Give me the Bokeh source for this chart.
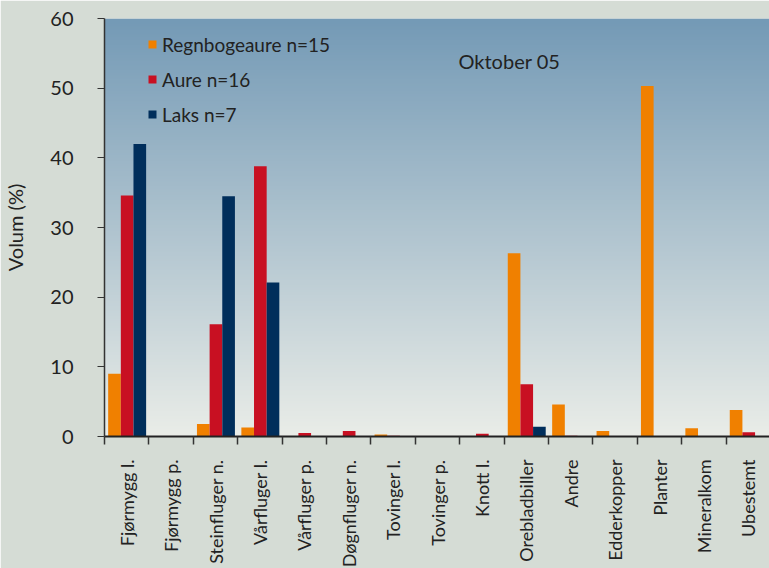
import math
import numpy as np
from bokeh.plotting import figure
from bokeh.models import (ColumnDataSource, Range1d, FixedTicker, CustomJSTickFormatter,
                          Label, Legend, LegendItem)
from bokeh.embed import file_html
from bokeh.resources import INLINE

categories = ["Fjørmygg l.", "Fjørmygg p.", "Steinfluger n.", "Vårfluger l.", "Vårfluger p.",
              "Døgnfluger n.", "Tovinger l.", "Tovinger p.", "Knott l.", "Orebladbiller",
              "Andre", "Edderkopper", "Planter", "Mineralkom", "Ubestemt"]
regnbogeaure = [9.0, 0, 1.8, 1.3, 0, 0, 0.3, 0, 0, 26.3, 4.6, 0.8, 50.3, 1.2, 3.8]
aure = [34.6, 0, 16.1, 38.8, 0.5, 0.8, 0.1, 0, 0.4, 7.5, 0.1, 0, 0, 0, 0.6]
laks = [42.0, 0, 34.5, 22.1, 0, 0, 0, 0, 0, 1.4, 0, 0, 0, 0, 0]
series_names = ["Regnbogeaure n=15", "Aure n=16", "Laks n=7"]
series_values = [regnbogeaure, aure, laks]
colors = ["#F08000", "#C81022", "#002E5B"]
y_ticks = [0, 10, 20, 30, 40, 50, 60]

FONT = "Lato"
TXT = "#222222"

p = figure(width=769, height=568, frame_width=666, frame_height=418,
           min_border_left=103, min_border_right=0, min_border_top=18, min_border_bottom=132,
           x_range=Range1d(0, len(categories)), y_range=Range1d(0, 60),
           output_backend="svg", toolbar_location=None,
           background_fill_color="#D5DCD5", border_fill_color="#D5DCD5")
p.outline_line_color = None
p.grid.visible = False

# vertical gradient background of the plot area
n = 256
top = np.array([116, 154, 182], dtype=float)
bot = np.array([234, 237, 232], dtype=float)
t = np.linspace(0, 1, n)[:, None]
rgb = (bot * (1 - t) + top * t).astype(np.uint32)  # row 0 = bottom
img = np.zeros((n, 1), dtype=np.uint32)
view = img.view(dtype=np.uint8).reshape((n, 1, 4))
view[:, 0, 0] = rgb[:, 0]
view[:, 0, 1] = rgb[:, 1]
view[:, 0, 2] = rgb[:, 2]
view[:, 0, 3] = 255
p.image_rgba(image=[img], x=0, y=0, dw=len(categories), dh=60)

idx = np.arange(len(categories)) + 0.5
bw = 0.285
offsets = [-bw, 0.0, bw]
items = []
for name, vals, col, off in zip(series_names, series_values, colors, offsets):
    src = ColumnDataSource(dict(x=idx + off + 0.01, top=vals))
    r = p.vbar(x="x", top="top", bottom=0, width=bw, source=src,
               fill_color=col, line_color=None)
    items.append(LegendItem(label=name, renderers=[r]))

legend = Legend(items=items, location=(43, 310), orientation="vertical",
                background_fill_alpha=0, border_line_color=None,
                label_text_font=FONT, label_text_font_size="19px", label_text_color=TXT,
                glyph_width=10, glyph_height=10, spacing=11, padding=0, margin=0,
                label_standoff=5, label_height=24)
p.add_layout(legend, "center")

p.add_layout(Label(x=354, y=376, x_units="screen", y_units="screen", text="Oktober 05",
                   text_font=FONT, text_font_size="20px", text_color=TXT,
                   text_baseline="middle"))

# y axis
yax = p.yaxis[0]
yax.ticker = FixedTicker(ticks=y_ticks)
yax.axis_line_color = "#333333"
yax.axis_line_width = 1.5
yax.major_tick_out = 7
yax.major_tick_in = 0
yax.major_tick_line_color = "#333333"
yax.minor_tick_line_color = None
yax.major_label_text_font = FONT
yax.major_label_text_font_size = "20px"
yax.major_label_text_color = TXT
yax.major_label_standoff = 24
yax.axis_label = "Volum (%)"
yax.axis_label_text_font = FONT
yax.axis_label_text_font_size = "20px"
yax.axis_label_text_font_style = "normal"
yax.axis_label_text_color = TXT
yax.axis_label_standoff = 20

# x axis
xax = p.xaxis[0]
xax.ticker = FixedTicker(ticks=list(idx), minor_ticks=list(range(len(categories) + 1)))
xax.formatter = CustomJSTickFormatter(args=dict(cats=categories),
                                      code="return cats[Math.floor(tick)] || '';")
xax.axis_line_color = "#222222"
xax.axis_line_width = 2
xax.major_tick_out = 0
xax.major_tick_in = 0
xax.minor_tick_out = 8
xax.minor_tick_in = 0
xax.minor_tick_line_color = "#333333"
xax.minor_tick_line_width = 1.5
xax.major_label_orientation = math.pi / 2
xax.major_label_text_font = FONT
xax.major_label_text_font_size = "18px"
xax.major_label_text_color = TXT
xax.major_label_standoff = 15

open("out.html", "w").write(file_html(p, INLINE))
